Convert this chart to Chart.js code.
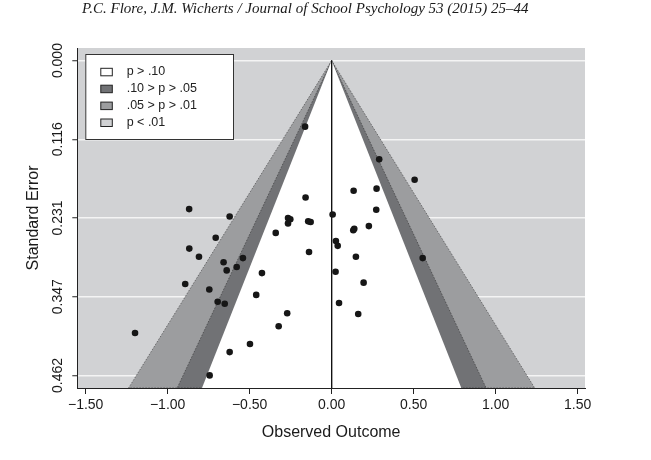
<!DOCTYPE html>
<html>
<head>
<meta charset="utf-8">
<script src="https://cdn.jsdelivr.net/npm/chart.js@4.4.1/dist/chart.umd.min.js"></script>
<style>
  html, body { margin: 0; padding: 0; background: #fff; }
  #wrap { position: relative; width: 651px; height: 460px; }
  #header {
    position: absolute; left: 82px; top: -2px;
    font: italic 15px "Liberation Serif", serif; line-height: 20px;
    color: #1a1a1a; white-space: nowrap;
  }
  canvas { position: absolute; left: 0; top: 0; }
</style>
</head>
<body>
<div id="wrap">
  <canvas id="funnel" width="651" height="460"></canvas>
  <div id="header">P.C. Flore, J.M. Wicherts / Journal of School Psychology 53 (2015) 25–44</div>
</div>
<script>
// observed outcomes and their standard errors
var effectSizes = [
  -0.162, -0.869, -0.159, -0.622, 0.006, -0.266, -0.266, -0.252, -0.143, -0.128,
  -0.707, -0.341, -0.868, -0.809, -0.541, -0.138, 0.026, 0.037, 0.290, 0.506,
  0.134, 0.274, 0.272, 0.227, 0.132, 0.138, 0.148, 0.555, 0.024, 0.195,
  0.045, 0.162, -0.659, -0.640, -0.579, -0.425, -0.893, -0.746, -0.460, -0.695,
  -0.652, -0.271, -0.323, -1.199, -0.498, -0.622, -0.744
];
var standardErrors = [
  0.097, 0.218, 0.201, 0.229, 0.226, 0.231, 0.239, 0.233, 0.236, 0.237,
  0.260, 0.253, 0.276, 0.288, 0.290, 0.281, 0.265, 0.272, 0.145, 0.175,
  0.191, 0.188, 0.219, 0.243, 0.249, 0.247, 0.288, 0.290, 0.310, 0.326,
  0.356, 0.372, 0.296, 0.308, 0.303, 0.312, 0.328, 0.336, 0.344, 0.354,
  0.357, 0.371, 0.390, 0.400, 0.416, 0.428, 0.4622
];

// axis ticks
var xTickValues = [-1.5, -1.0, -0.5, 0, 0.5, 1.0, 1.5];
var xTickLabels = ['\u22121.50', '\u22121.00', '\u22120.50', '0.00', '0.50', '1.00', '1.50'];
var seTickValues = [0, 0.11555, 0.2311, 0.34665, 0.4622];
var seTickLabels = ['0.000', '0.116', '0.231', '0.347', '0.462'];

var xMin = -1.551, xMax = 1.545;
var seMin = -0.0185, seMax = 0.4807;

// contour regions (outer first)
var contourZ = [2.576, 1.960, 1.645];
var contourColors = ['#9c9d9f', '#717275', '#ffffff'];
var backgroundColor = '#d1d2d4';

var legendLabels = ['p > .10', '.10 > p > .05', '.05 > p > .01', 'p < .01'];
var legendColors = ['#ffffff', '#717275', '#9c9d9f', '#d1d2d4'];

var points = effectSizes.map(function (x, i) { return { x: x, y: standardErrors[i] }; });

var datasets = [{
  type: 'scatter',
  data: points,
  backgroundColor: '#161616',
  borderWidth: 0,
  pointRadius: 3.3,
  order: 0
}, {
  type: 'line',
  data: [{ x: 0, y: 0 }, { x: 0, y: seMax }],
  borderColor: '#111',
  borderWidth: 1,
  pointRadius: 0,
  fill: false,
  order: 1
}];

contourZ.forEach(function (z, i) {
  datasets.push({
    type: 'line',
    data: [{ x: 0, y: 0 }, { x: -z * seMax, y: seMax }, { x: z * seMax, y: seMax }, { x: 0, y: 0 }],
    backgroundColor: contourColors[i],
    borderColor: i < 2 ? 'rgba(40,40,40,0.75)' : 'rgba(0,0,0,0)',
    borderWidth: i < 2 ? 0.7 : 0,
    borderDash: [1.5, 1.5],
    pointRadius: 0,
    fill: 'shape',
    tension: 0,
    order: 10 - i
  });
});

var plotBackground = {
  id: 'plotBackground',
  beforeDraw: function (chart) {
    var a = chart.chartArea, ctx = chart.ctx;
    ctx.save();
    ctx.fillStyle = backgroundColor;
    ctx.fillRect(a.left, a.top, a.right - a.left, a.bottom - a.top);
    ctx.restore();
  }
};

var boxLegend = {
  id: 'boxLegend',
  afterDatasetsDraw: function (chart) {
    var a = chart.chartArea, ctx = chart.ctx;
    var bx = a.left + 8, by = a.top + 6, bw = 148.7, bh = 86;
    ctx.save();
    ctx.fillStyle = '#fff';
    ctx.fillRect(bx, by, bw, bh);
    ctx.strokeStyle = '#333';
    ctx.lineWidth = 1;
    ctx.strokeRect(bx + 0.5, by + 0.5, bw - 1, bh - 1);
    ctx.font = '12.5px "Liberation Sans", Arial, sans-serif';
    ctx.textBaseline = 'middle';
    ctx.textAlign = 'left';
    legendLabels.forEach(function (lab, i) {
      var cy = by + 18 + i * 16.9;
      ctx.fillStyle = legendColors[i];
      ctx.fillRect(bx + 15.5, cy - 3.7, 11.5, 7.5);
      ctx.strokeStyle = '#222';
      ctx.strokeRect(bx + 15.5, cy - 3.7, 11.5, 7.5);
      ctx.fillStyle = '#222';
      ctx.fillText(lab, bx + 41.4, cy);
    });
    ctx.restore();
  }
};

new Chart(document.getElementById('funnel'), {
  type: 'scatter',
  data: { datasets: datasets },
  options: {
    responsive: false,
    animation: false,
    layout: { padding: { left: 0, right: 66, top: 48, bottom: 0 } },
    plugins: { legend: { display: false }, tooltip: { enabled: false } },
    scales: {
      x: {
        type: 'linear',
        min: xMin, max: xMax,
        afterBuildTicks: function (scale) {
          scale.ticks = xTickValues.map(function (v) { return { value: v }; });
        },
        afterFit: function (scale) { scale.height = 72; },
        ticks: {
          callback: function (v, i) { return xTickLabels[i]; },
          font: { family: '"Liberation Sans", Arial, sans-serif', size: 14 },
          color: '#1a1a1a',
          padding: 3,
          maxRotation: 0
        },
        grid: { drawOnChartArea: false, tickLength: 6, tickColor: '#222' },
        border: { color: '#222', width: 1 },
        title: {
          display: true, text: 'Observed Outcome',
          font: { family: '"Liberation Sans", Arial, sans-serif', size: 16 },
          color: '#1a1a1a',
          padding: { top: 0, bottom: 18 }
        }
      },
      y: {
        type: 'linear',
        reverse: true,
        min: seMin, max: seMax,
        afterBuildTicks: function (scale) {
          scale.ticks = seTickValues.map(function (v) { return { value: v }; });
        },
        afterFit: function (scale) { scale.width = 77.3; },
        ticks: {
          callback: function (v, i) { return seTickLabels[i]; },
          font: { family: '"Liberation Sans", Arial, sans-serif', size: 14 },
          color: '#1a1a1a',
          minRotation: 90, maxRotation: 90,
          crossAlign: 'center',
          padding: -3.5
        },
        grid: { color: '#f4f4f4', lineWidth: 1.5, tickLength: 5, tickColor: '#222', tickWidth: 1 },
        border: { color: '#222', width: 1 },
        title: {
          display: true, text: 'Standard Error',
          font: { family: '"Liberation Sans", Arial, sans-serif', size: 16 },
          color: '#1a1a1a',
          padding: { top: 24, bottom: 0 }
        }
      }
    }
  },
  plugins: [plotBackground, boxLegend]
});
</script>
</body>
</html>
